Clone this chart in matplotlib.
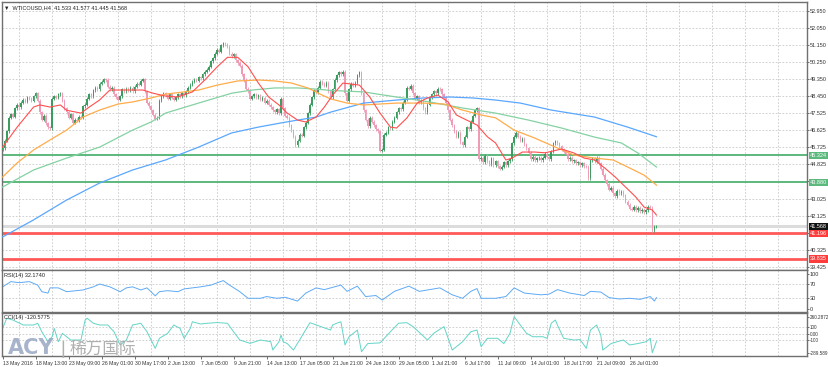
import matplotlib
matplotlib.use("Agg")
import matplotlib.pyplot as plt
from matplotlib.transforms import blended_transform_factory

# H4 closes, one per bar (bar 0 = 13 May 2016 01:00)
first_open = 45.60
closes = [
    45.70, 46.10, 46.60, 47.30, 47.50, 47.35, 47.80, 48.00, 47.85, 48.10,
    48.25, 48.15, 48.40, 48.30, 48.20, 48.45, 48.60, 48.20, 47.60, 47.20,
    47.40, 47.00, 46.80, 46.75, 48.30, 48.45, 48.35, 48.55, 48.60, 48.20,
    47.80, 47.60, 47.30, 47.50, 47.05, 47.20, 47.15, 47.35, 47.30, 47.90,
    48.00, 48.30, 48.55, 48.45, 48.75, 48.90, 48.80, 49.10, 49.20, 49.35,
    49.30, 48.95, 48.80, 48.90, 48.55, 48.40, 48.25, 48.45, 48.80, 48.70,
    48.85, 48.75, 48.90, 48.70, 48.95, 49.10, 49.05, 49.25, 49.35, 48.70,
    48.10, 47.90, 47.70, 47.45, 47.25, 47.30, 48.20, 48.45, 48.60, 48.50,
    48.30, 48.55, 48.35, 48.25, 48.40, 48.55, 48.45, 48.60, 48.50, 48.70,
    48.90, 49.05, 49.20, 49.30, 49.25, 49.45, 49.40, 49.60, 49.75, 49.85,
    50.00, 50.30, 50.45, 50.70, 50.90, 50.80, 51.15, 51.25, 51.20, 51.05,
    50.70, 50.55, 50.65, 50.35, 50.20, 50.05, 49.60, 49.30, 48.85, 48.70,
    48.30, 48.45, 48.55, 48.40, 48.50, 48.25, 48.35, 48.10, 48.20, 48.00,
    47.85, 47.70, 47.60, 47.75, 47.55, 48.30, 47.80, 47.40, 47.30, 46.90,
    46.65, 46.30, 45.85, 46.10, 46.40, 46.35, 46.80, 47.05, 47.55, 48.00,
    48.40, 48.75, 48.65, 48.90, 49.20, 49.10, 49.00, 49.15, 48.70, 48.40,
    48.80, 49.30, 49.55, 49.70, 49.60, 49.75, 48.60, 48.20, 48.80, 49.10,
    49.00, 49.15, 49.55, 49.70, 48.60, 47.70, 47.20, 46.85, 47.30, 47.10,
    46.90, 46.70, 46.60, 45.55, 45.60, 46.40, 46.50, 46.80, 46.75, 47.10,
    47.30, 47.60, 47.80, 47.75, 48.10, 48.25, 48.90, 48.85, 49.00, 48.60,
    48.30, 48.45, 48.10, 48.20, 47.80, 47.60, 48.00, 48.40, 48.55, 48.70,
    48.60, 48.85, 48.80, 48.55, 48.40, 48.10, 47.70, 47.20, 46.90, 46.60,
    46.30, 46.50, 46.00, 45.85, 46.30, 46.80, 46.70, 47.10, 47.40, 47.70,
    47.80, 45.10, 45.20, 44.95, 45.30, 45.00, 44.85, 45.15, 44.80, 45.00,
    44.75, 44.60, 44.70, 44.95, 44.80, 45.00, 45.10, 45.95, 46.30, 46.50,
    46.30, 46.10, 46.20, 45.90, 45.70, 45.45, 45.10, 45.25, 45.05, 45.15,
    45.20, 45.05, 45.20, 45.40, 45.25, 45.10, 45.50, 45.95, 46.05, 45.95,
    45.80, 45.65, 45.50, 45.40, 45.10, 45.20, 45.00, 45.05, 44.90, 44.95,
    44.80, 44.90, 44.75, 44.70, 44.10, 45.05, 45.15, 45.00, 45.20, 44.90,
    44.60, 44.30, 44.00, 43.80, 43.50, 43.60, 43.30, 43.15, 43.45, 43.30,
    43.40, 43.20, 42.85, 42.70, 42.50, 42.45, 42.60, 42.40, 42.55, 42.35,
    42.45, 42.30, 42.40, 42.60, 42.55, 41.35, 41.53, 41.568,
]

# moving averages (bar index, price)
ma_red_x = [0, 7, 15, 18, 23, 28, 31, 38, 42, 47, 52, 56, 63, 68, 73, 79, 85, 92, 98, 104,
            109, 114, 119, 124, 129, 134, 138, 143, 147, 152, 156, 160, 165, 173, 178, 183,
            188, 191, 196, 201, 206, 211, 216, 220, 225, 230, 235, 239, 244, 247, 252, 258,
            263, 271, 277, 282, 287, 292, 297, 302, 307, 311, 315, 317]
ma_red_y = [45.75, 46.80, 47.87, 47.98, 47.87, 47.98, 47.70, 47.55, 47.87, 48.24, 48.77, 48.77,
            48.77, 48.77, 48.60, 48.45, 48.40, 48.67, 49.30, 49.99, 50.50, 50.50, 50.00, 49.14,
            48.40, 47.98, 47.55, 47.18, 47.08, 47.34, 47.87, 48.50, 49.14, 49.03, 48.40, 47.55,
            46.81, 46.76, 47.29, 48.08, 48.35, 48.50, 48.14, 47.45, 47.18, 46.92, 46.30, 45.97,
            45.07, 45.17, 45.49, 45.49, 45.45, 45.65, 45.44, 45.17, 45.07, 44.64, 44.17, 43.64,
            43.11, 42.58, 42.42, 42.16]
ma_orange_x = [0, 7, 15, 23, 31, 39, 47, 56, 63, 72, 79, 95, 104, 114, 124, 132, 140, 148, 155,
               159, 167, 175, 191, 204, 214, 223, 232, 239, 248, 258, 268, 277, 287, 296, 303,
               311, 317]
ma_orange_y = [44.17, 44.91, 45.60, 46.13, 46.65, 47.34, 47.71, 48.03, 48.14, 48.35, 48.55,
               48.77, 49.03, 49.25, 49.30, 49.25, 49.14, 48.88, 48.50, 48.30, 48.08, 47.98,
               48.08, 48.08, 48.03, 47.71, 47.45, 47.30, 46.65, 46.23, 45.75, 45.33, 45.17,
               45.07, 44.70, 44.27, 43.74]
ma_green_x = [0, 15, 31, 47, 63, 72, 79, 95, 111, 121, 132, 143, 152, 159, 175, 191, 207, 223,
              239, 255, 271, 287, 300, 308, 317]
ma_green_y = [43.64, 44.54, 45.17, 45.75, 46.65, 47.08, 47.55, 48.08, 48.60, 48.77, 48.88, 48.88,
              48.82, 48.75, 48.67, 48.40, 48.14, 47.82, 47.55, 47.18, 46.76, 46.28, 45.97, 45.44,
              44.70]
ma_blue_x = [0, 15, 31, 47, 63, 79, 95, 111, 124, 135, 143, 152, 159, 175, 191, 204, 217, 228,
             239, 251, 266, 287, 303, 317]
ma_blue_y = [41.00, 41.90, 42.95, 43.85, 44.54, 45.07, 45.75, 46.50, 46.81, 47.03, 47.18, 47.34,
             47.60, 48.08, 48.24, 48.35, 48.40, 48.35, 48.24, 48.08, 47.71, 47.34, 46.81, 46.30]

rsi_x = [0, 4, 8, 13, 17, 19, 22, 23, 27, 31, 39, 44, 47, 52, 57, 60, 63, 67, 70, 74, 76, 80,
         85, 88, 92, 96, 101, 107, 110, 115, 119, 125, 128, 133, 137, 143, 147, 152, 156, 164,
         167, 172, 176, 181, 184, 190, 197, 202, 207, 212, 218, 223, 227, 230, 232, 239, 244,
         248, 253, 261, 265, 269, 275, 282, 285, 290, 294, 299, 304, 309, 314, 316, 317]
rsi_y = [63, 78, 75, 78, 68, 49, 45, 60, 60, 49, 54, 63, 71, 63, 49, 60, 63, 54, 60, 37, 49, 52,
         49, 57, 60, 63, 68, 81, 68, 49, 30, 30, 35, 30, 33, 22, 45, 60, 55, 68, 50, 65, 35, 38,
         25, 50, 65, 50, 55, 60, 40, 30, 50, 58, 30, 30, 35, 60, 45, 40, 42, 55, 45, 38, 50, 48,
         32, 28, 30, 27, 35, 22, 32.174]

cci_x = [0, 2, 5, 10, 15, 17, 19, 22, 24, 25, 27, 29, 33, 38, 40, 41, 44, 47, 51, 54, 57, 60,
         63, 67, 70, 74, 76, 80, 83, 86, 88, 91, 92, 96, 99, 104, 109, 112, 115, 120, 125, 130,
         131, 134, 135, 136, 138, 141, 144, 149, 159, 160, 162, 164, 166, 168, 172, 174, 177,
         183, 188, 192, 196, 199, 206, 209, 214, 218, 223, 227, 230, 232, 235, 240, 243, 246,
         248, 251, 254, 257, 262, 264, 266, 268, 269, 272, 277, 280, 283, 285, 288, 290, 291,
         295, 298, 301, 304, 308, 312, 314, 315, 317]
cci_y = [82, 235, 209, 133, 133, 159, 30, -122, -46, 82, -122, 6, -96, -96, 209, 235, 159, 133,
         133, 30, -172, -96, 133, 159, 30, -223, -70, 6, 133, 82, -70, 82, 183, 148, 159, 170,
         159, 30, -96, -147, -96, -122, -249, -122, -20, -122, -150, -249, -96, 168, 56, 133,
         160, 183, -172, -46, 56, -275, -150, -140, 30, 160, 168, 108, -96, 6, 108, -249, -122,
         30, 56, -198, -70, -70, -150, 6, 260.2872, 133, 6, -46, -46, -70, 160, 209, 133, -70,
         -96, -90, -223, 56, 133, -20, -249, -150, -122, -96, -172, -150, -122, -70, -289.589,
         -120.5775]

price_labels = ["52.950", "52.050", "51.150", "50.250", "49.350", "48.450", "47.525", "46.625",
                "45.725", "44.825", "", "43.025", "42.125", "", "40.325", "39.425"]
date_labels = ["13 May 2016", "18 May 13:00", "23 May 09:00", "26 May 01:00", "30 May 17:00",
               "2 Jun 13:00", "7 Jun 05:00", "9 Jun 21:00", "14 Jun 13:00", "17 Jun 05:00",
               "21 Jun 21:00", "24 Jun 13:00", "29 Jun 05:00", "1 Jul 21:00", "6 Jul 17:00",
               "11 Jul 09:00", "14 Jul 01:00", "18 Jul 17:00", "21 Jul 09:00", "26 Jul 01:00"]
support_green = [45.324, 43.880]
support_red = [41.196, 39.835]
last_price = 41.568

plt.rcParams['font.family'] = ['Liberation Sans', 'DejaVu Sans', 'Noto Sans CJK SC']
FS = 4.0
GRID = dict(color='#c8c8c8', lw=0.6, ls=(0, (2, 2)))

fig = plt.figure(figsize=(8.29, 3.67), dpi=100)
fig.patch.set_facecolor('white')
L, W = 2 / 829, 805 / 829
ax = fig.add_axes([L, 97 / 367, W, 268 / 367])
ax_rsi = fig.add_axes([L, 55 / 367, W, 42 / 367], sharex=ax)
ax_cci = fig.add_axes([L, 11 / 367, W, 43 / 367], sharex=ax)

n = len(closes)
opens = [first_open] + closes[:-1]
idx = list(range(n))
for a in (ax, ax_rsi, ax_cci):
    a.set_xlim(-0.3, 390)
    for k in range(25):
        a.axvline(8 + 16 * k, zorder=0, **GRID)
    for s in a.spines.values():
        s.set_color('#707070')
        s.set_linewidth(1.0)
    a.yaxis.tick_right()
    a.tick_params(axis='y', labelsize=FS, length=1.5, pad=0.6, colors='#333333', width=0.5)
    a.tick_params(axis='x', length=0, labelbottom=False)

# main panel
ax.set_ylim(39.251, 53.426)
levels = [52.95 - 0.90167 * k for k in range(16)]
ax.set_yticks(levels)
ax.set_yticklabels(price_labels)
for lv in levels:
    ax.axhline(lv, zorder=0, **GRID)

ax.axhline(last_price, color='#dcdcdc', lw=2.2, zorder=1)
for v in support_green:
    ax.axhline(v, color='#5cb87c', lw=1.4, zorder=2)
for v in support_red:
    ax.axhline(v, color='#ff5a5a', lw=2.0, zorder=2)

bull, bear = '#3a9d5f', '#ef9bb6'
cols = [bull if c >= o else bear for o, c in zip(opens, closes)]
wick = 0.08
ax.vlines(idx, [min(o, c) - wick for o, c in zip(opens, closes)],
          [max(o, c) + wick for o, c in zip(opens, closes)], colors=cols, lw=0.6, zorder=3)
ax.bar(idx, [max(abs(c - o), 0.03) for o, c in zip(opens, closes)],
       bottom=[min(o, c) for o, c in zip(opens, closes)], width=0.75, color=cols, lw=0, zorder=3)

ax.plot(ma_blue_x, ma_blue_y, color='#5aa7ff', lw=0.9, zorder=4)
ax.plot(ma_green_x, ma_green_y, color='#84d2a2', lw=0.9, zorder=4)
ax.plot(ma_orange_x, ma_orange_y, color='#ffac4a', lw=0.9, zorder=4)
ax.plot(ma_red_x, ma_red_y, color='#ff4f4f', lw=0.8, zorder=4)

tr = blended_transform_factory(ax.transAxes, ax.transData)
boxes = [(support_green[0], '#5cb87c'), (support_green[1], '#5cb87c'),
         (last_price, '#111111'), (support_red[0], '#ff3c3c'), (support_red[1], '#ff3c3c')]
for v, c in boxes:
    ax.text(1.0035, v, '%.3f' % v, transform=tr, fontsize=FS, color='white', va='center',
            ha='left', bbox=dict(boxstyle='square,pad=0.2', fc=c, ec='none'), clip_on=False)

ax.text(0.003, 0.988, '\u25bc  WTICOUSD,H4  41.533 41.577 41.445 41.568', transform=ax.transAxes,
        fontsize=FS, va='top', ha='left', color='#222222')

# RSI
ax_rsi.set_ylim(-9.5, 111.5)
ax_rsi.set_yticks([100, 70, 30, 0])
ax_rsi.set_yticklabels(['100', '70', '30', '0'])
for lv in (70, 30):
    ax_rsi.axhline(lv, zorder=0, **GRID)
ax_rsi.plot(rsi_x, rsi_y, color='#5eaaf5', lw=0.7)
ax_rsi.text(0.003, 0.94, 'RSI(14) 32.1740', transform=ax_rsi.transAxes, fontsize=FS,
            va='top', ha='left', color='#222222')

# CCI
ax_cci.set_ylim(-340, 316)
ax_cci.set_yticks([260.2872, 100, 0, -100, -289.589])
ax_cci.set_yticklabels(['260.2872', '100', '0.00', '-100', '-289.589'])
ax_cci.tick_params(axis='y', labelsize=3.3, pad=0.4)
for lv in (100, 0, -100):
    ax_cci.axhline(lv, zorder=0, **GRID)
ax_cci.plot(cci_x, cci_y, color='#63d4c6', lw=0.7)
ax_cci.text(0.003, 0.95, 'CCI(14) -120.5775', transform=ax_cci.transAxes, fontsize=FS,
            va='top', ha='left', color='#222222')

ax_cci.set_xticks([16 * k for k in range(len(date_labels))])
ax_cci.set_xticklabels(date_labels)
ax_cci.tick_params(axis='x', labelbottom=True, labelsize=3.7, length=2, pad=1.5,
                   colors='#333333', width=0.5)
for t in ax_cci.get_xticklabels():
    t.set_horizontalalignment('left')

# watermark
fig.text(8 / 829, 1 - 354 / 367, 'ACY', fontsize=15, fontweight='bold', color='#98a7c4',
         alpha=0.85, ha='left', va='baseline', family=['DejaVu Sans'])
fig.text(60 / 829, 1 - 354 / 367, '|', fontsize=13, color='#b0b0b0', ha='left', va='baseline')
fig.text(70 / 829, 1 - 354 / 367, '稀万国际', fontsize=12, color='#a8a8a8', alpha=0.9,
         ha='left', va='baseline', family=['Noto Sans CJK SC', 'DejaVu Sans'])

fig.savefig('out.png', dpi=100)
